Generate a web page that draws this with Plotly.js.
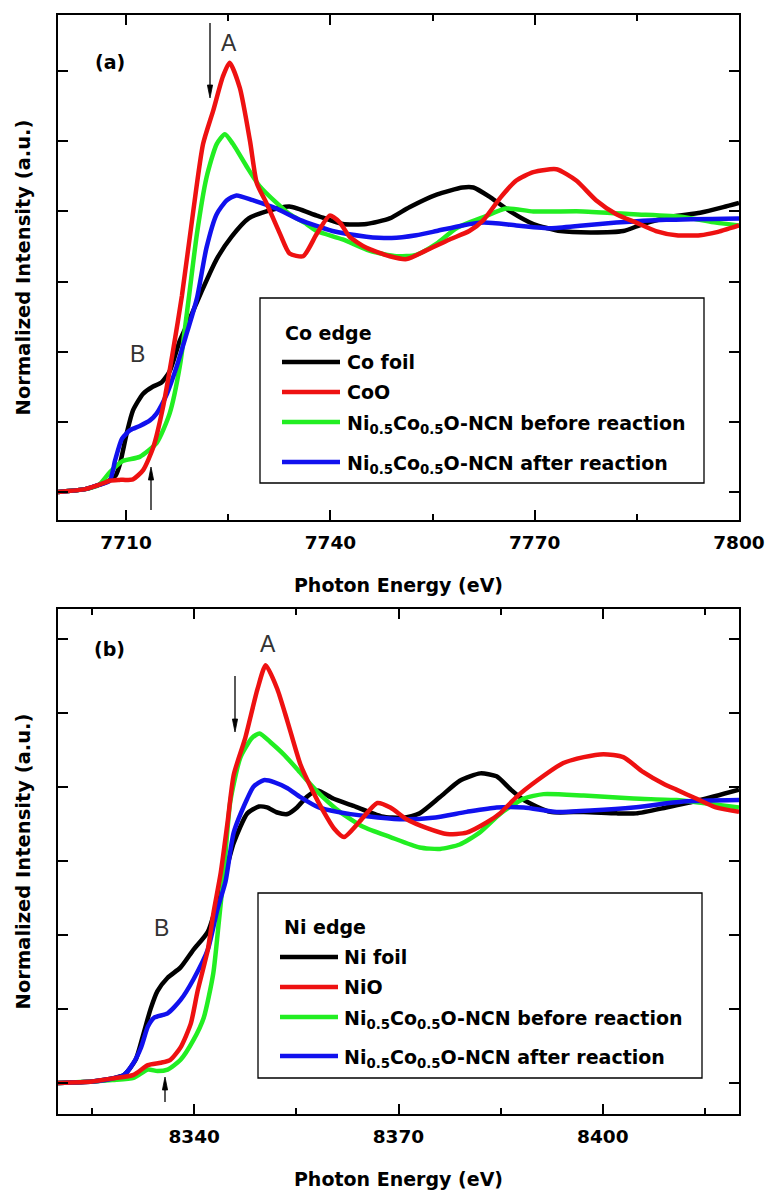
<!DOCTYPE html>
<html>
<head>
<meta charset="utf-8">
<script src="https://cdn.plot.ly/plotly-3.0.1.min.js"></script>
<style>html,body{margin:0;padding:0;background:#fff;}#chart{width:769px;height:1191px;}</style>
</head>
<body>
<div id="chart"></div>
<script>
// ---------------- DATA ----------------
const seriesNamesCo = ["Co foil", "CoO", "Ni<sub>0.5</sub>Co<sub>0.5</sub>O-NCN before reaction", "Ni<sub>0.5</sub>Co<sub>0.5</sub>O-NCN after reaction"];
const seriesNamesNi = ["Ni foil", "NiO", "Ni<sub>0.5</sub>Co<sub>0.5</sub>O-NCN before reaction", "Ni<sub>0.5</sub>Co<sub>0.5</sub>O-NCN after reaction"];
const legendTitleCo = "Co edge";
const legendTitleNi = "Ni edge";
const xTitle = "Photon Energy (eV)";
const yTitle = "Normalized Intensity (a.u.)";

// (a) Co K-edge
const coFoilX = [7700, 7704, 7706, 7707.5, 7708.5, 7709.1, 7710.1, 7711, 7712.5, 7713.9, 7715.2, 7716.4, 7717.9, 7719.4, 7721, 7723.3, 7725.5, 7728, 7730.6, 7734, 7738, 7741.8, 7745.3, 7748.7, 7751.6, 7755.6, 7759.4, 7761, 7763.5, 7766.4, 7769.8, 7773.8, 7778.2, 7783, 7785.9, 7789.9, 7794.3, 7797.7, 7800];
const coFoilY = [0.0, 0.01, 0.025, 0.04, 0.06, 0.10, 0.21, 0.29, 0.35, 0.375, 0.39, 0.43, 0.54, 0.62, 0.71, 0.83, 0.91, 0.975, 1.0, 1.017, 0.985, 0.955, 0.955, 0.975, 1.015, 1.06, 1.085, 1.085, 1.05, 1.0, 0.955, 0.93, 0.925, 0.93, 0.955, 0.98, 0.995, 1.015, 1.03];

const coOX = [7700, 7704, 7706, 7707.6, 7709, 7711, 7712.5, 7714, 7715.4, 7716.9, 7718.2, 7719.8, 7721.3, 7722.8, 7724.2, 7725.2, 7726.7, 7728.2, 7729.2, 7730.6, 7732.6, 7734, 7736, 7738, 7739.9, 7741.4, 7742.8, 7745.3, 7748.7, 7751.2, 7754, 7757.5, 7760.4, 7762.5, 7765, 7767.3, 7769.8, 7773.2, 7776.1, 7779, 7782, 7784.9, 7787.8, 7790.8, 7794.3, 7796.6, 7800];
const coOY = [0.0, 0.01, 0.025, 0.04, 0.043, 0.045, 0.078, 0.16, 0.30, 0.505, 0.70, 0.99, 1.24, 1.36, 1.48, 1.53, 1.44, 1.25, 1.10, 1.03, 0.92, 0.85, 0.84, 0.92, 0.985, 0.96, 0.91, 0.87, 0.84, 0.83, 0.86, 0.90, 0.93, 0.97, 1.05, 1.11, 1.14, 1.15, 1.11, 1.04, 0.99, 0.96, 0.93, 0.915, 0.915, 0.925, 0.95];

const coBeforeX = [7700, 7704, 7706, 7707.6, 7709.5, 7712, 7714.5, 7716.4, 7717.9, 7719.2, 7720.4, 7721.8, 7723.3, 7724.5, 7725.7, 7727.7, 7729.6, 7732.1, 7734, 7736.5, 7738, 7741.8, 7745.7, 7749.7, 7752.6, 7755.6, 7758.5, 7762.5, 7765.8, 7769.8, 7777.1, 7784.5, 7791.8, 7796.6, 7800];
const coBeforeY = [0.0, 0.01, 0.025, 0.07, 0.11, 0.125, 0.175, 0.28, 0.45, 0.69, 0.92, 1.12, 1.24, 1.275, 1.24, 1.16, 1.09, 1.03, 0.99, 0.955, 0.93, 0.90, 0.86, 0.84, 0.845, 0.885, 0.94, 0.98, 1.01, 1.0, 1.0, 0.99, 0.98, 0.96, 0.95];

const coAfterX = [7700, 7704, 7706, 7707.6, 7708.4, 7709.4, 7710.6, 7712, 7713.5, 7714.5, 7716, 7717.4, 7718.9, 7720.4, 7721.8, 7723.3, 7724.8, 7726.2, 7728.6, 7732.1, 7735.5, 7740.3, 7745.3, 7749, 7752.6, 7755.6, 7759.4, 7762.5, 7767.3, 7772.3, 7777.1, 7782, 7789.3, 7800];
const coAfterY = [0.0, 0.01, 0.025, 0.04, 0.114, 0.19, 0.22, 0.235, 0.255, 0.28, 0.35, 0.445, 0.565, 0.69, 0.87, 0.99, 1.04, 1.057, 1.04, 1.01, 0.97, 0.93, 0.91, 0.905, 0.915, 0.93, 0.95, 0.96, 0.95, 0.94, 0.95, 0.96, 0.97, 0.975];

// (b) Ni K-edge
const niFoilX = [8320, 8325, 8328, 8329.7, 8331.4, 8332.6, 8333.6, 8334.6, 8336.1, 8338, 8339.9, 8342, 8343.9, 8345.8, 8347.8, 8349.5, 8350.7, 8352.2, 8353.7, 8355.1, 8356.6, 8358.1, 8360.4, 8363.4, 8367.5, 8370.7, 8373.1, 8376.1, 8379, 8382, 8384.4, 8386.5, 8388.4, 8392.3, 8397.2, 8402, 8404.9, 8409.3, 8414.3, 8420];
const niFoilY = [0.0, 0.005, 0.015, 0.027, 0.078, 0.17, 0.25, 0.31, 0.355, 0.39, 0.45, 0.51, 0.65, 0.81, 0.91, 0.933, 0.93, 0.913, 0.908, 0.93, 0.967, 0.987, 0.96, 0.935, 0.9, 0.895, 0.91, 0.965, 1.02, 1.045, 1.035, 0.99, 0.955, 0.915, 0.915, 0.91, 0.91, 0.93, 0.955, 0.99];

const niOX = [8320, 8325, 8328, 8331.1, 8333.2, 8335.1, 8336.5, 8338, 8339.5, 8340.5, 8342, 8342.8, 8343.9, 8344.9, 8345.8, 8347.5, 8349.3, 8350.5, 8352.2, 8353.7, 8355.6, 8357.3, 8358.9, 8360.5, 8362, 8364.2, 8366.9, 8368.8, 8371.2, 8374.2, 8377.1, 8380, 8383, 8384.9, 8387.3, 8390.3, 8394.2, 8397.2, 8400.1, 8403, 8405.9, 8408.9, 8410.8, 8413.7, 8416.6, 8420];
const niOY = [0.0, 0.005, 0.015, 0.027, 0.06, 0.068, 0.078, 0.12, 0.2, 0.31, 0.45, 0.57, 0.71, 0.88, 1.04, 1.165, 1.33, 1.41, 1.33, 1.22, 1.075, 0.99, 0.92, 0.86, 0.83, 0.88, 0.945, 0.93, 0.89, 0.86, 0.84, 0.845, 0.88, 0.91, 0.965, 1.02, 1.08, 1.1, 1.11, 1.1, 1.05, 1.01, 0.99, 0.96, 0.93, 0.915];

const niBeforeX = [8320, 8325, 8328, 8331.1, 8333.2, 8334.6, 8336.1, 8338, 8339.9, 8341.4, 8342.8, 8343.6, 8344.4, 8345.3, 8346.8, 8348.5, 8349.6, 8351.2, 8353.1, 8355.1, 8357, 8358.9, 8361.4, 8364.8, 8368.8, 8373.1, 8376.1, 8379, 8381.9, 8385, 8388.4, 8391.3, 8397.2, 8404.5, 8410.8, 8414.7, 8420];
const niBeforeY = [0.0, 0.005, 0.01, 0.017, 0.045, 0.04, 0.045, 0.078, 0.145, 0.22, 0.37, 0.54, 0.72, 0.95, 1.10, 1.165, 1.18, 1.15, 1.11, 1.06, 1.01, 0.965, 0.915, 0.865, 0.83, 0.795, 0.79, 0.805, 0.845, 0.91, 0.96, 0.975, 0.97, 0.96, 0.955, 0.945, 0.93];

const niAfterX = [8320, 8325, 8328, 8329.7, 8331.1, 8332.2, 8333.2, 8334.1, 8336.1, 8338, 8339.9, 8342, 8343.4, 8344.6, 8345.8, 8347.8, 8348.7, 8350.2, 8351.8, 8353.7, 8355.6, 8358.3, 8361, 8365.4, 8370.2, 8375, 8380, 8384.4, 8388.4, 8393.2, 8398.2, 8404.5, 8411.8, 8420];
const niAfterY = [0.0, 0.005, 0.015, 0.027, 0.068, 0.12, 0.19, 0.22, 0.235, 0.28, 0.35, 0.45, 0.585, 0.68, 0.845, 0.96, 1.0, 1.022, 1.015, 0.995, 0.965, 0.93, 0.915, 0.9, 0.89, 0.895, 0.915, 0.93, 0.93, 0.915, 0.92, 0.93, 0.95, 0.955];

const seriesColors = ["#000000", "#ee1111", "#22ee22", "#1111ee"];

// ---------------- FIGURE ----------------
const W = 769, H = 1191, ML = 58, MR = 30, MT = 15, MB = 77;
const PW = W - ML - MR, PH = H - MT - MB;
const px = v => (v - ML) / PW;          // pixel -> paper x
const py = v => (H - MB - v) / PH;      // pixel -> paper y

const boldFont = {family: "DejaVu Sans, Verdana, sans-serif", size: 19, color: "#000", weight: "bold"};
const lineW = 4.5;

function mk(x, y, i, xa, ya, name) {
  return {x: x, y: y, xaxis: xa, yaxis: ya, mode: "lines", name: name, showlegend: false,
    line: {color: seriesColors[i], width: lineW, shape: "spline", smoothing: 0.6}, hoverinfo: "skip"};
}

const data = [
  mk(coFoilX, coFoilY, 0, "x", "y", seriesNamesCo[0]),
  mk(coBeforeX, coBeforeY, 2, "x", "y", seriesNamesCo[2]),
  mk(coAfterX, coAfterY, 3, "x", "y", seriesNamesCo[3]),
  mk(coOX, coOY, 1, "x", "y", seriesNamesCo[1]),
  mk(niFoilX, niFoilY, 0, "x2", "y2", seriesNamesNi[0]),
  mk(niBeforeX, niBeforeY, 2, "x2", "y2", seriesNamesNi[2]),
  mk(niAfterX, niAfterY, 3, "x2", "y2", seriesNamesNi[3]),
  mk(niOX, niOY, 1, "x2", "y2", seriesNamesNi[1])
];

const axisCommon = {showline: true, linecolor: "#000", linewidth: 2, mirror: "ticks", ticks: "inside",
  tickcolor: "#000", tickwidth: 2, showgrid: false, zeroline: false, automargin: false};

function xAxis(range, tick0, anchor) {
  return Object.assign({}, axisCommon, {
    domain: [0, 1], anchor: anchor, range: range, tick0: tick0, dtick: 30, ticklen: 10,
    minor: {dtick: 15, ticklen: 6, tickwidth: 2, ticks: "inside", tickcolor: "#000"},
    tickfont: Object.assign({}, boldFont, {size: 18.5}), ticklabelstandoff: 5,
    title: {text: xTitle, font: Object.assign({}, boldFont, {size: 19}), standoff: 26}
  });
}
function yAxis(range, domain, anchor) {
  return Object.assign({}, axisCommon, {
    domain: domain, anchor: anchor, range: range, tick0: 0, dtick: 0.25, ticklen: 10,
    showticklabels: false,
    title: {text: yTitle, font: Object.assign({}, boldFont, {size: 19.5}), standoff: 20}
  });
}

const topDom = [py(520), 1];
const botDom = [0, py(609)];

const shapes = [];
const annotations = [];

function addLegend(box, titleText, titlePos, names, lineX, rows, textX) {
  shapes.push({type: "rect", xref: "paper", yref: "paper", x0: px(box[0]), x1: px(box[2]), y0: py(box[1]), y1: py(box[3]),
    line: {color: "#000", width: 1.3}, fillcolor: "rgba(0,0,0,0)"});
  annotations.push({xref: "paper", yref: "paper", x: px(titlePos[0]), y: py(titlePos[1]), xanchor: "left", yanchor: "middle",
    text: titleText, showarrow: false, font: boldFont});
  names.forEach((n, i) => {
    shapes.push({type: "line", xref: "paper", yref: "paper", x0: px(lineX[0]), x1: px(lineX[1]), y0: py(rows[i]), y1: py(rows[i]),
      line: {color: seriesColors[i], width: lineW}});
    const hasSub = n.indexOf("<sub>") >= 0;
    annotations.push({xref: "paper", yref: "paper", x: px(textX), y: py(rows[i] - (hasSub ? 12 : 0)), xanchor: "left",
      yanchor: hasSub ? "top" : "middle", text: n, showarrow: false, font: boldFont});
  });
}
addLegend([260, 298, 704, 483], legendTitleCo, [283, 333], seriesNamesCo, [282, 340], [362, 392, 422, 462], 345);
addLegend([258, 893, 702, 1078], legendTitleNi, [282, 927], seriesNamesNi, [280, 338], [957, 987, 1017, 1056], 342);

function label(t, x, y, font) {
  annotations.push({xref: "paper", yref: "paper", x: px(x), y: py(y), xanchor: "center", yanchor: "middle",
    text: t, showarrow: false, font: font});
}
const plainFont = {family: "Liberation Sans, Arial, sans-serif", size: 23, color: "#333"};
label("(a)", 110, 62, boldFont);
label("(b)", 109, 649, boldFont);
label("A", 229, 43, plainFont);
label("B", 137, 354, plainFont);
label("A", 268, 644, plainFont);
label("B", 161, 928, plainFont);

// arrows drawn as shapes: shaft + narrow filled head
function arrow(x, tipY, tailY) {
  const dir = tipY > tailY ? 1 : -1;
  const headLen = 13, headHalf = 2.6;
  const baseY = tipY - dir * headLen;
  shapes.push({type: "line", xref: "paper", yref: "paper", x0: px(x), x1: px(x), y0: py(tailY), y1: py(baseY + dir * 2),
    line: {color: "#000", width: 1.3}});
  shapes.push({type: "path", xref: "paper", yref: "paper",
    path: "M " + px(x) + "," + py(tipY) + " L " + px(x - headHalf) + "," + py(baseY) + " L " + px(x + headHalf) + "," + py(baseY) + " Z",
    fillcolor: "#000", line: {color: "#000", width: 0.8}});
}
arrow(210, 98, 23);
arrow(151, 467, 510);
arrow(235, 732, 676);
arrow(165, 1077, 1102);

const layout = {
  width: W, height: H, margin: {l: ML, r: MR, t: MT, b: MB},
  paper_bgcolor: "#fff", plot_bgcolor: "#fff", showlegend: false,
  xaxis: xAxis([7700, 7800], 7710, "y"),
  yaxis: yAxis([-0.1, 1.7], topDom, "x"),
  xaxis2: xAxis([8320, 8420], 8340, "y2"),
  yaxis2: yAxis([-0.105, 1.6], botDom, "x2"),
  shapes: shapes, annotations: annotations
};

Plotly.newPlot("chart", data, layout, {staticPlot: true, displayModeBar: false});
</script>
</body>
</html>
